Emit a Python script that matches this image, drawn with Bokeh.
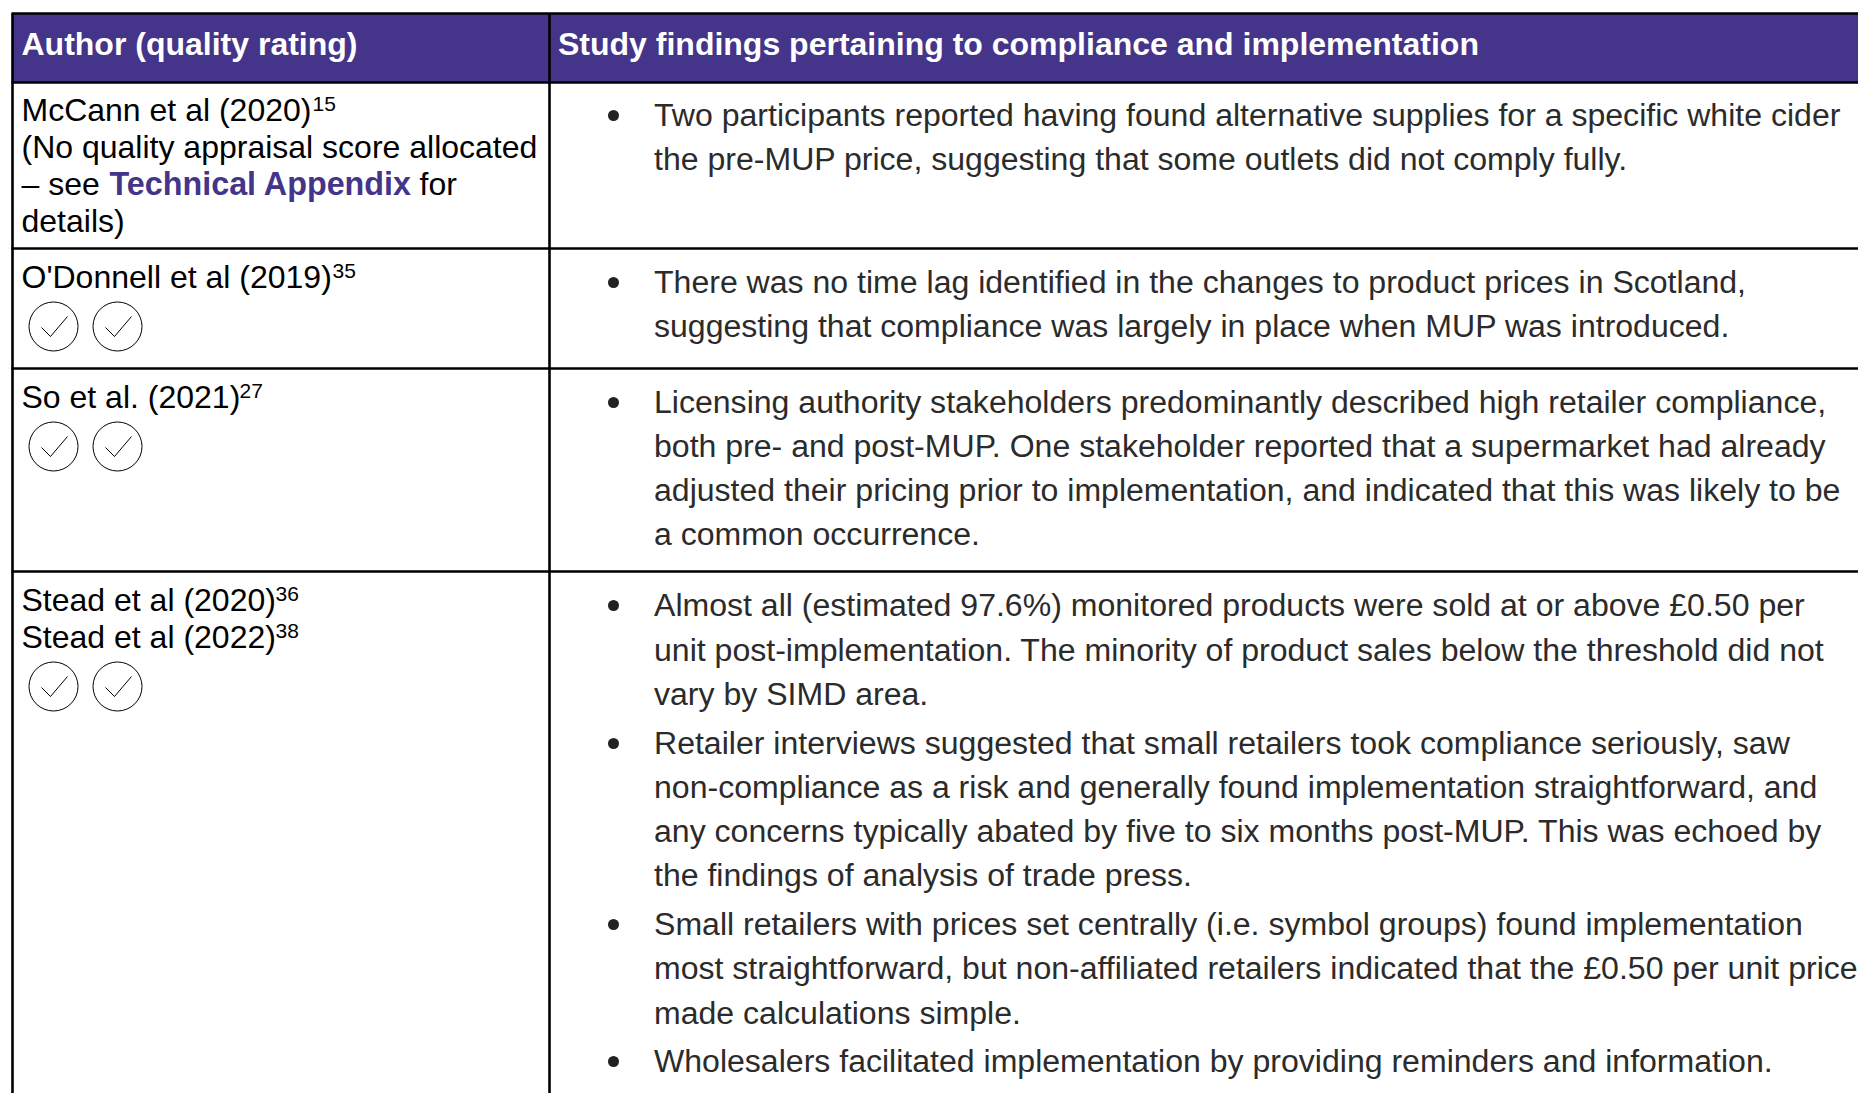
from bokeh.plotting import figure
from bokeh.models import Range1d
from bokeh.core.properties import value
from bokeh.embed import file_html
from bokeh.resources import INLINE

# ---------- content ----------
header_author = "Author (quality rating)"
header_findings = "Study findings pertaining to compliance and implementation"

left_lines = [
    "McCann et al (2020)",
    "(No quality appraisal score allocated",
    "– see",
    "for",
    "details)",
    "O'Donnell et al (2019)",
    "So et al. (2021)",
    "Stead et al (2020)",
    "Stead et al (2022)",
]
link_text = "Technical Appendix"
superscripts = ["15", "35", "27", "36", "38"]

bullets = [
    ["Two participants reported having found alternative supplies for a specific white cider",
     "the pre-MUP price, suggesting that some outlets did not comply fully."],
    ["There was no time lag identified in the changes to product prices in Scotland,",
     "suggesting that compliance was largely in place when MUP was introduced."],
    ["Licensing authority stakeholders predominantly described high retailer compliance,",
     "both pre- and post-MUP. One stakeholder reported that a supermarket had already",
     "adjusted their pricing prior to implementation, and indicated that this was likely to be",
     "a common occurrence."],
    ["Almost all (estimated 97.6%) monitored products were sold at or above £0.50 per",
     "unit post-implementation. The minority of product sales below the threshold did not",
     "vary by SIMD area."],
    ["Retailer interviews suggested that small retailers took compliance seriously, saw",
     "non-compliance as a risk and generally found implementation straightforward, and",
     "any concerns typically abated by five to six months post-MUP. This was echoed by",
     "the findings of analysis of trade press."],
    ["Small retailers with prices set centrally (i.e. symbol groups) found implementation",
     "most straightforward, but non-affiliated retailers indicated that the £0.50 per unit price",
     "made calculations simple."],
    ["Wholesalers facilitated implementation by providing reminders and information."],
]

# ---------- layout (page pixels) ----------
W, H = 1858, 1093
FONT = value("Liberation Sans")
PURPLE = "#44358a"
row_lines = [13, 82, 248, 368, 571]
col_lines = [12, 549]
left_x = 21
right_x = 653.5
bullet_x = 613
bullet_baselines = [
    [114, 158], [281, 325], [401, 445, 489, 533],
    [604, 649, 693], [742, 786, 830, 874], [923, 967, 1012], [1060],
]
left_baselines = [109, 146, 183, 183, 220, 276, 396, 599, 636]
left_xs = [left_x, left_x, left_x, 419, left_x, left_x, left_x, left_x, left_x]
sup_xs = [312, 332, 239, 275, 275]
sup_ys = [103, 270, 390, 593, 630]
circle_ys = [326, 446, 686]
circle_xs = [53, 117]

p = figure(width=W, height=H, x_range=Range1d(0, W), y_range=Range1d(H, 0),
           output_backend="svg", toolbar_location=None, min_border=0,
           x_axis_type=None, y_axis_type=None, outline_line_color=None,
           background_fill_color="white", border_fill_color="white")
p.grid.visible = False

# header band
p.quad(left=[col_lines[0]], right=[W], top=[row_lines[0]], bottom=[row_lines[1]],
       fill_color=PURPLE, line_color=None)

# rules
for y in row_lines:
    p.segment(x0=[col_lines[0] - 1], y0=[y], x1=[W], y1=[y], line_color="black", line_width=2.6)
for x in col_lines:
    p.segment(x0=[x], y0=[row_lines[0]], x1=[x], y1=[H], line_color="black", line_width=2.6)

# header text
p.text(x=[left_x, 557.5], y=[43, 43], text=[header_author, header_findings], text_color="white",
       text_font=FONT, text_font_style="bold", text_font_size="32px", text_baseline="alphabetic")

# left column
p.text(x=left_xs, y=left_baselines, text=left_lines, text_color="black", text_font=FONT,
       text_font_size="32px", text_baseline="alphabetic")
p.text(x=[109], y=[183], text=[link_text], text_color=PURPLE, text_font=FONT,
       text_font_style="bold", text_font_size="32.3px", text_baseline="alphabetic")
p.text(x=sup_xs, y=sup_ys, text=superscripts, text_color="black", text_font=FONT,
       text_font_size="21px", text_baseline="alphabetic")

# rating circles with ticks
for cy in circle_ys:
    for cx in circle_xs:
        p.ellipse(x=[cx], y=[cy], width=49, height=49, fill_color=None,
                  line_color="black", line_width=1)
        p.line(x=[cx - 12, cx - 3, cx + 14], y=[cy + 1, cy + 10, cy - 10],
               line_color="black", line_width=1)

# findings
for block, ys in zip(bullets, bullet_baselines):
    p.scatter(x=[bullet_x], y=[ys[0] + 1], size=11, marker="circle",
              fill_color="#222222", line_color=None)
    p.text(x=[right_x] * len(block), y=ys, text=block, text_color="#2b2b2b", text_font=FONT,
           text_font_size="32.05px", text_baseline="alphabetic")

open("out.html", "w").write(file_html(p, INLINE))
